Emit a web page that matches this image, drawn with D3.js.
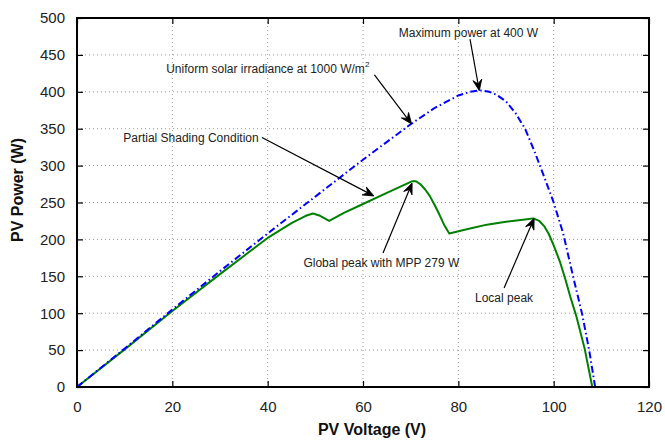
<!DOCTYPE html>
<html>
<head>
<meta charset="utf-8">
<script src="https://cdn.jsdelivr.net/npm/d3@7"></script>
<style>
  body { margin: 0; background: #fff; }
  text { font-family: "Liberation Sans", Arial, Helvetica, sans-serif; }
</style>
</head>
<body>
<svg id="drawing_region"></svg>
<script>
// uniform irradiance curve (blue, dash-dot)
const uniformV = [0, 10, 20, 30, 40, 50, 60, 70, 75, 80, 82.5, 84.5, 86.5, 88, 90, 92, 94, 96, 98, 100, 102, 104, 106, 107.5, 108.7]
const uniformP = [0, 52, 105, 157, 208, 258, 308, 356, 378, 395, 400, 402, 400, 396, 387, 371, 350, 319, 285, 250, 208, 152, 98, 48, 0]

// partial shading curve (green)
const shadedV = [0, 10, 20, 30, 40, 45, 48, 49.5, 51, 52.9, 56, 60, 65, 69, 70, 70.6, 71.2, 72, 73, 74, 75, 76, 77, 78.1,
                 82, 86, 90, 94, 95.7, 97, 98, 99, 100, 101.3, 102.5, 103.5, 104.8, 106.5, 108.1]
const shadedP = [0, 51, 103, 153, 202, 222, 232, 235, 232, 225, 236, 248, 263, 275, 278, 279, 278.5, 275, 268, 259, 247, 234, 220, 208,
                 214, 220, 224, 227, 228.5, 225, 218, 207, 192, 170, 145, 122, 95, 52, 0]

const xTicks = [0, 20, 40, 60, 80, 100, 120]
const yTicks = [0, 50, 100, 150, 200, 250, 300, 350, 400, 450, 500]

// annotations: text anchor (V,P), arrow start (V,P) and arrow tip (V,P)
const noteText = ['Maximum power at 400 W', 'Uniform solar irradiance at 1000 W/m', 'Partial Shading Condition',
                  'Global peak with MPP 279 W', 'Local peak']
const notePos = [[67.5, 474.7], [18.7, 425.9], [9.7, 331.6], [47.5, 163], [83.5, 115.6]]
const arrowFrom = [[82.45, 471.5], [62.4, 422.8], [38.8, 338.1], [64.2, 181.6], [89.6, 134.1]]
const arrowTo = [[84.4, 401.5], [70.2, 356.4], [62.3, 258.8], [70.3, 276.4], [95.9, 228.6]]

const width = 665, height = 441
const margin = {top: 18, right: 16, bottom: 54, left: 77}
const innerW = width - margin.left - margin.right
const innerH = height - margin.top - margin.bottom

const svg = d3.select('#drawing_region').attr('width', width).attr('height', height)
const chart = svg.append('g').attr('transform', `translate(${margin.left},${margin.top})`)

const xscale = d3.scaleLinear().domain([0, 120]).range([0, innerW])
const yscale = d3.scaleLinear().domain([0, 500]).range([innerH, 0])

// dotted grid
chart.append('g').selectAll('line').data(xTicks.filter(d => d > 0 && d < 120)).enter()
  .append('line')
  .attr('x1', d => xscale(d)).attr('x2', d => xscale(d))
  .attr('y1', 0).attr('y2', innerH)
  .attr('stroke', '#9a9a9a').attr('stroke-dasharray', '1,3')
chart.append('g').selectAll('line').data(yTicks.filter(d => d > 0 && d < 500)).enter()
  .append('line')
  .attr('y1', d => yscale(d)).attr('y2', d => yscale(d))
  .attr('x1', 0).attr('x2', innerW)
  .attr('stroke', '#9a9a9a').attr('stroke-dasharray', '1,3')

// axes (inward ticks, all four sides)
const tick = 6
const xaxis = d3.axisBottom(xscale).tickValues(xTicks).tickSizeInner(-tick).tickSizeOuter(0).tickPadding(14)
const yaxis = d3.axisLeft(yscale).tickValues(yTicks).tickSizeInner(-tick).tickSizeOuter(0).tickPadding(12)
const xaxisTop = d3.axisTop(xscale).tickValues(xTicks).tickSizeInner(-tick).tickSizeOuter(0).tickFormat('')
const yaxisRight = d3.axisRight(yscale).tickValues(yTicks).tickSizeInner(-tick).tickSizeOuter(0).tickFormat('')

const styleAxis = g => {
  g.select('.domain').remove()
  g.selectAll('.tick line').attr('stroke', '#000').attr('stroke-width', 1.2)
  g.selectAll('.tick text').attr('fill', '#222').attr('font-size', 15)
    .attr('font-family', '"Liberation Sans", Arial, sans-serif')
}
chart.append('g').attr('transform', `translate(0,${innerH})`).call(xaxis).call(styleAxis)
chart.append('g').call(yaxis).call(styleAxis)
chart.append('g').call(xaxisTop).call(styleAxis)
chart.append('g').attr('transform', `translate(${innerW},0)`).call(yaxisRight).call(styleAxis)

// lines
const uniform = uniformV.map((v, i) => ({v: v, p: uniformP[i]}))
const shaded = shadedV.map((v, i) => ({v: v, p: shadedP[i]}))
const line = d3.line().x(d => xscale(d.v)).y(d => yscale(d.p))

chart.append('path')
  .attr('d', line(shaded))
  .attr('fill', 'none').attr('stroke', '#008000').attr('stroke-width', 2)
  .attr('stroke-linejoin', 'round')

chart.append('path')
  .attr('d', line(uniform))
  .attr('fill', 'none').attr('stroke', '#0000ff').attr('stroke-width', 2)
  .attr('stroke-dasharray', '7,3,1.5,3')

// frame
chart.append('rect')
  .attr('x', 0).attr('y', 0).attr('width', innerW).attr('height', innerH)
  .attr('fill', 'none').attr('stroke', '#000').attr('stroke-width', 2)

// annotations
noteText.forEach((t, i) => {
  const txt = chart.append('text')
    .attr('x', xscale(notePos[i][0])).attr('y', yscale(notePos[i][1]))
    .attr('font-size', 12).attr('fill', '#222')
    .text(t)
  if (i === 1) txt.append('tspan').attr('font-size', 8).attr('dy', -6).text('2')

  const x1 = xscale(arrowFrom[i][0]), y1 = yscale(arrowFrom[i][1])
  const x2 = xscale(arrowTo[i][0]), y2 = yscale(arrowTo[i][1])
  const ang = Math.atan2(y2 - y1, x2 - x1) * 180 / Math.PI
  const len = Math.hypot(x2 - x1, y2 - y1)
  const g = chart.append('g').attr('transform', `translate(${x1},${y1}) rotate(${ang})`)
  g.append('line').attr('x1', 0).attr('y1', 0).attr('x2', len - 4).attr('y2', 0)
    .attr('stroke', '#000').attr('stroke-width', 1.2)
  g.append('path')
    .attr('d', `M${len},0 L${len - 11},-4.5 L${len - 7},0 L${len - 11},4.5 Z`)
    .attr('fill', '#000').attr('stroke', '#000').attr('stroke-width', 0.8).attr('stroke-linejoin', 'miter')
})

// axis titles
svg.append('text')
  .attr('x', margin.left + innerW / 2 + 9).attr('y', 435)
  .attr('text-anchor', 'middle').attr('font-size', 16).attr('font-weight', 'bold').attr('fill', '#111')
  .text('PV Voltage (V)')

svg.append('text')
  .attr('transform', `translate(23,190) rotate(-90)`)
  .attr('text-anchor', 'middle').attr('font-size', 16).attr('font-weight', 'bold').attr('fill', '#111')
  .text('PV Power (W)')
</script>
</body>
</html>
